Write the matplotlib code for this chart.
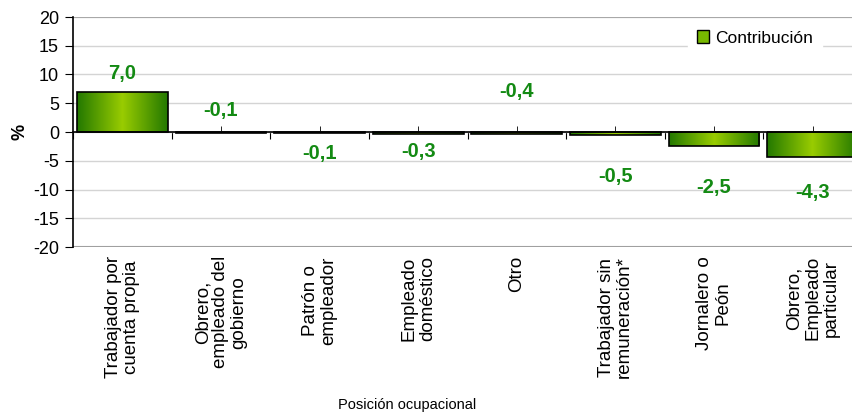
import numpy as np
import matplotlib
matplotlib.use("Agg")
import matplotlib.pyplot as plt
from matplotlib.colors import LinearSegmentedColormap
from matplotlib.patches import Rectangle

plt.rcParams['font.family'] = ['Liberation Sans', 'DejaVu Sans']
plt.rcParams['axes.unicode_minus'] = False

categorias = ["Trabajador por\ncuenta propia", "Obrero,\nempleado del\ngobierno",
              "Patrón o\nempleador", "Empleado\ndoméstico", "Otro",
              "Trabajador sin\nremuneración*", "Jornalero o\nPeón",
              "Obrero,\nEmpleado\nparticular"]
contribucion = [7.0, -0.1, -0.1, -0.3, -0.4, -0.5, -2.5, -4.3]

# posicion vertical de las etiquetas (como en el original de Excel)
label_y = [10.1, 3.8, -3.8, -3.4, 7.1, -7.8, -9.6, -10.6]

verde = "#138a13"
grad = LinearSegmentedColormap.from_list("g", ["#237800", "#99cc00", "#237800"])

fig = plt.figure(figsize=(8.52, 4.15), dpi=100)
ax = fig.add_axes([73 / 852, 1 - 247 / 415, 789 / 852, 230 / 415])

x = np.arange(len(categorias))
bars = ax.bar(x, contribucion, width=0.92, color="none", edgecolor="black",
              linewidth=1.2, zorder=3)
g = np.linspace(0, 1, 256).reshape(1, -1)
for b in bars:
    x0, y0 = b.get_x(), b.get_y()
    w, h = b.get_width(), b.get_height()
    im = ax.imshow(g, cmap=grad, aspect="auto", zorder=2,
                   extent=[x0, x0 + w, min(y0, y0 + h), max(y0, y0 + h)])
    im.set_clip_path(b)

ax.set_xlim(-0.5, len(categorias) - 0.5)
ax.set_ylim(-20, 20)
ax.set_yticks(np.arange(-20, 21, 5))
ax.tick_params(axis="y", labelsize=13, length=6, direction="out", pad=4)
ax.yaxis.grid(True, color="#d4d4d4", linewidth=1)
ax.set_axisbelow(True)

for s in ["top", "right"]:
    ax.spines[s].set_visible(False)
ax.spines["bottom"].set_position(("data", 0))
ax.spines["bottom"].set_linewidth(1.2)
ax.spines["left"].set_linewidth(1.2)
ax.axhline(20, color="#a0a0a0", linewidth=1.2, zorder=1)
ax.axhline(-20, color="#a0a0a0", linewidth=1.5, zorder=1)

ax.set_xticks(np.arange(len(categorias) + 1) - 0.5)
ax.set_xticks(x, minor=True)
ax.tick_params(axis="x", which="major", length=5, direction="out", labelbottom=False)
ax.tick_params(axis="x", which="minor", length=4, direction="in", labelbottom=False)

for xi, lab in zip(x, categorias):
    ax.text(xi, -21.6, lab, rotation=90, ha="center", va="top", fontsize=13.5,
            multialignment="center", linespacing=1.1)

for xi, v, yl in zip(x, contribucion, label_y):
    ax.text(xi, yl, f"{v:.1f}".replace(".", ","), ha="center", va="center",
            color=verde, fontsize=14.5, fontweight="bold")

fig.text(20 / 852, 1 - 132 / 415, "%", rotation=90, ha="center", va="center",
         fontsize=13, fontweight="bold")
fig.text(407 / 852, 1 - 405 / 415, "Posición ocupacional", ha="center",
         va="center", fontsize=10.5)

leg_patch = Rectangle((0, 0), 1, 1, facecolor="#77b800", edgecolor="black")
leg = fig.legend([leg_patch], ["Contribución"], loc="center",
                 bbox_to_anchor=(755 / 852, 1 - 38 / 415),
                 fontsize=12.5, frameon=True, handlelength=0.7, handleheight=0.7,
                 handletextpad=0.4, borderpad=0.5, fancybox=False)
leg.get_frame().set_edgecolor("white")
leg.get_frame().set_alpha(1)

fig.savefig("out.png", dpi=100)
